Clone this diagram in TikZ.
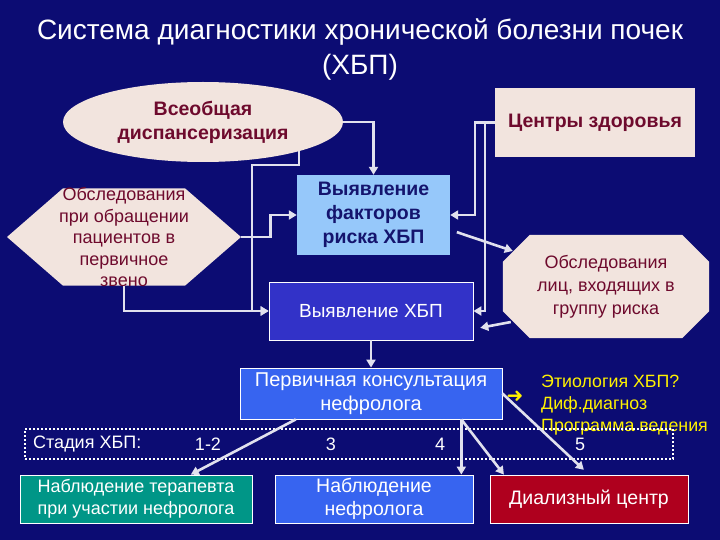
\documentclass[tikz,border=0pt]{standalone}
\usepackage{fontspec}
\setmainfont{Liberation Sans}
\newfontfamily\symfont{DejaVu Sans}
\usetikzlibrary{positioning,shapes.geometric,shapes.symbols,arrows.meta}

\definecolor{slidebg}{RGB}{12,12,115}
\definecolor{cream}{RGB}{242,228,222}
\definecolor{maroon}{RGB}{110,10,45}
\definecolor{skyblue}{RGB}{150,200,250}
\definecolor{inkblue}{RGB}{20,20,110}
\definecolor{midblue}{RGB}{50,50,200}
\definecolor{brightblue}{RGB}{55,100,240}
\definecolor{tealbox}{RGB}{0,150,135}
\definecolor{darkred}{RGB}{175,0,30}
\definecolor{wire}{RGB}{225,225,238}

\newcommand\txtsize{\fontsize{19}{24}\selectfont}
\newcommand\boldsize{\fontsize{19.5}{24}\selectfont\bfseries}

\begin{document}
\begin{tikzpicture}[x=1pt,y=-1pt,
    blockbox/.style={draw=white,line width=0.8pt,inner sep=0pt,align=center,text=white,font=\txtsize},
    creamy/.style={fill=cream,text=maroon,inner sep=0pt,align=center},
    stagetxt/.style={text=white,font=\fontsize{18}{22}\selectfont,inner sep=0pt},
    link/.style={wire,line width=2.6pt,-{Triangle[length=8pt,width=9pt]}}]
      \fill[slidebg] (0,0) rectangle (720,540);
      \useasboundingbox (0,0) rectangle (720,540);

      \node[text=white,align=center,font=\fontsize{28}{35}\selectfont] (title) at (360,50)
        {Система диагностики хронической болезни почек\\(ХБП)};

      \node[creamy,ellipse,minimum width=280pt,minimum height=80pt,font=\boldsize] (disp) at (203,122)
        {Всеобщая\\диспансеризация};
      \node[creamy,minimum width=200pt,minimum height=69pt,font=\boldsize] (centers) at (595,122.5)
        {Центры здоровья};
      \node[fill=cream,shape=signal,signal to=east and west,signal pointer angle=82,
            minimum width=234pt,minimum height=97pt,inner sep=0pt] (prim) at (124,237) {};
      \node[text=maroon,align=center,font=\fontsize{18}{21.5}\selectfont] (primtxt) at (prim.center)
        {Обследования\\при обращении\\пациентов в\\первичное\\звено};
      \node[fill=skyblue,text=inkblue,inner sep=0pt,align=center,minimum width=153pt,minimum height=80pt,
            font=\boldsize] (factors) at (373.5,215) {Выявление\\факторов\\риска ХБП};

      \node[minimum width=206pt,minimum height=103pt,inner sep=0pt] (octag) at (606,286.5) {};
      \fill[cream] ([xshift=27pt]octag.north west) -- ([xshift=-27pt]octag.north east)
        -- ([yshift=-27pt]octag.north east) -- ([yshift=27pt]octag.south east)
        -- ([xshift=-27pt]octag.south east) -- ([xshift=27pt]octag.south west)
        -- ([yshift=27pt]octag.south west) -- ([yshift=-27pt]octag.north west) -- cycle;
      \node[text=maroon,align=center,font=\fontsize{18}{23}\selectfont] (octtxt) at (octag.center)
        {Обследования\\лиц, входящих в\\группу риска};

      \node[blockbox,fill=midblue,minimum width=204pt,minimum height=58pt] (vyhbp) at (371,311) {Выявление ХБП};
      \node[blockbox,fill=brightblue,minimum width=262pt,minimum height=51pt,font=\fontsize{20}{24}\selectfont]
        (consult) at (371,393.5) {Первичная консультация\\нефролога};
      \node[text=yellow,font=\fontsize{20}{20}\selectfont\symfont\bfseries,inner sep=0pt] (bul) at (515,397) {➜};
      \node[text=yellow,anchor=west,align=left,inner sep=0pt,font=\fontsize{17.8}{22}\selectfont] (etio) at (541,405)
        {Этиология ХБП?\\Диф.диагноз\\Программа ведения};

      \node[draw=white,line width=1.2pt,dash pattern=on 2pt off 2pt,minimum width=648pt,minimum height=30pt,
            inner sep=0pt] (stage) at (349,444) {};
      \node[stagetxt,anchor=west] (stlbl) at (33,444) {Стадия ХБП:};
      \node[stagetxt] (st12) at (208,444) {1-2};
      \node[stagetxt] (st3) at (331,444) {3};
      \node[stagetxt] (st4) at (440,444) {4};
      \node[stagetxt] (st5) at (580,444) {5};

      \node[blockbox,fill=tealbox,minimum width=232pt,minimum height=48pt,font=\fontsize{18}{22}\selectfont]
        (terap) at (136,499) {Наблюдение терапевта\\при участии нефролога};
      \node[blockbox,fill=brightblue,minimum width=198pt,minimum height=48pt,font=\fontsize{19.5}{23}\selectfont]
        (nephro) at (374,499) {Наблюдение\\нефролога};
      \node[blockbox,fill=darkred,minimum width=198pt,minimum height=48pt,font=\fontsize{19.5}{23}\selectfont]
        (dialysis) at (589,499) {Диализный центр};

      \draw[link] (disp.east) -| (factors.north);
      \draw[link] (disp.-17) |- (252,165) |- (vyhbp.west);
      \draw[link] (prim.south) |- (vyhbp.west);
      \draw[link] (prim.east) -- ++(29,0) |- (factors.west);
      \draw[link] (centers.west) -- ++(-20,0) |- (factors.east);
      \draw[link] (centers.west) -- ++(-10,0) |- (vyhbp.east);
      \draw[link,shorten <=7pt] (factors.-11) -- ([xshift=10pt]octag.161);
      \draw[link,shorten >=7pt] ([xshift=8pt]octag.199) -- (vyhbp.-10);
      \draw[link] (vyhbp.south) -- (consult.north);

      \draw[link] (consult.199) -- (terap.24);
      \draw[link] (consult.-16.5) -- (consult.-16.5 |- nephro.north);
      \draw[link] (consult.-16.5) -- (dialysis.164);
      \draw[link,shorten >=7pt] (consult.east) -- (dialysis.north);
      % \draw[link] (consult.south) -- (stage.north);
\end{tikzpicture}
\end{document}
